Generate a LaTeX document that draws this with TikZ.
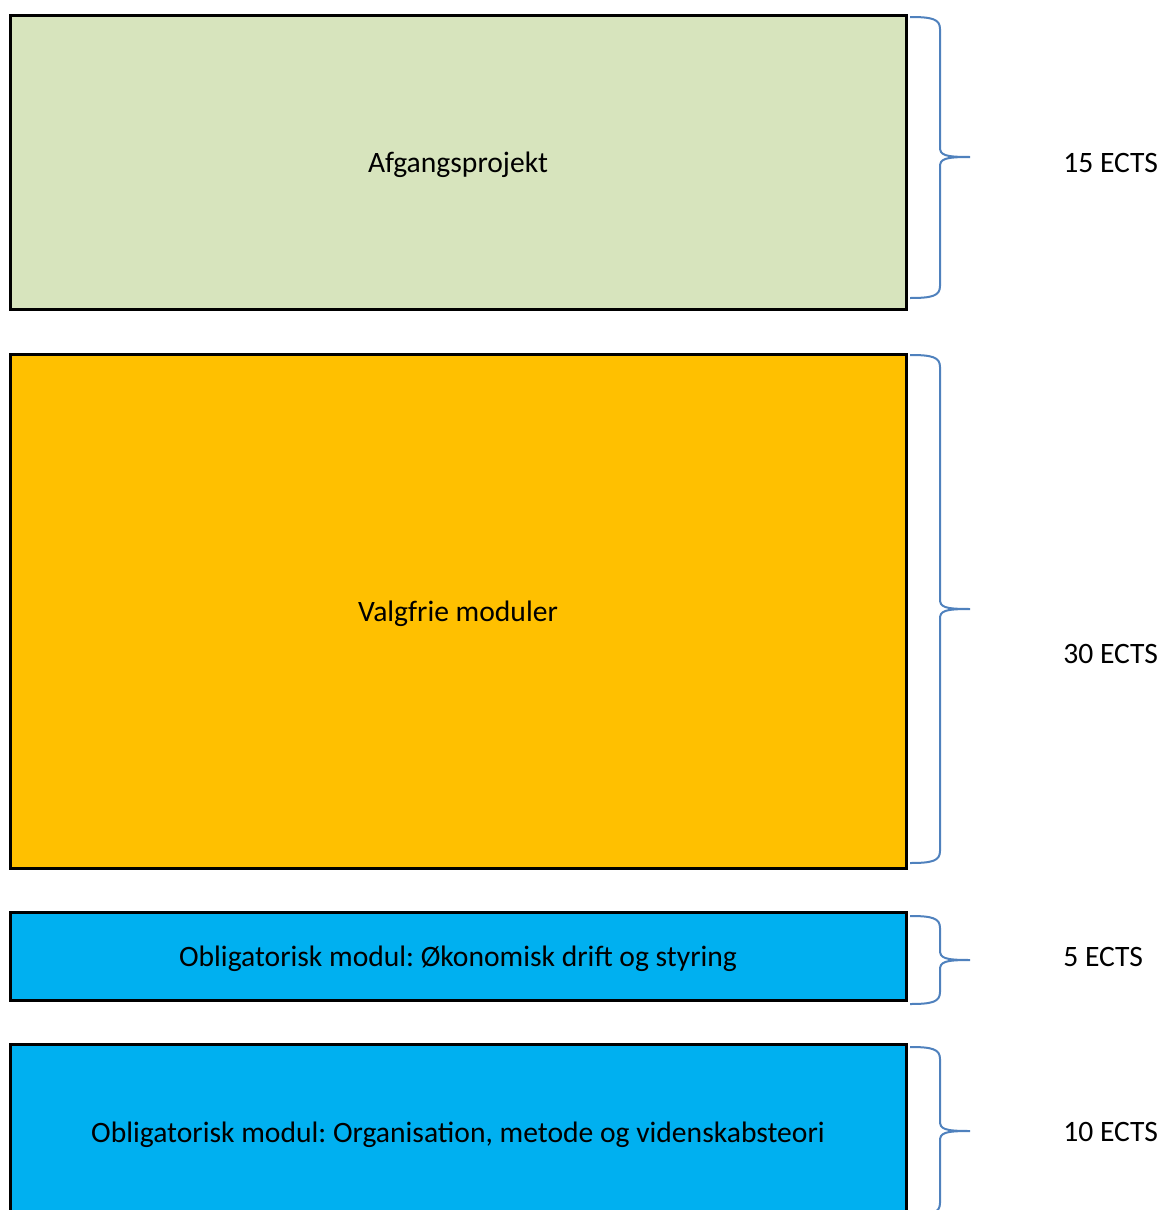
\documentclass[tikz,border=0pt]{standalone}
\usepackage{fontspec}
\setmainfont{Carlito}
\frenchspacing

\definecolor{afgangcol}{HTML}{D7E4BD}
\definecolor{valgcol}{HTML}{FFC000}
\definecolor{obligcol}{HTML}{00B0F0}
\definecolor{bracecol}{HTML}{4F81BD}

\tikzset{
  modul/.style={draw=black, line width=1.5pt, minimum width=448pt, inner sep=0pt, text depth=0pt, font=\fontsize{14.8}{17}\selectfont},
  klamme/.style={draw=bracecol, line width=1pt},
  ects/.style={anchor=west, inner sep=0pt, font=\fontsize{14.8}{17}\selectfont}
}

% klamme: top, spids, bund
\newcommand\ectsklamme[3]{%
  \draw[klamme] (910,#1) .. controls (932,#1) and (940,#1+2) .. (940,#1+12)
    -- (940,#2-10) .. controls (940,#2-2) and (944,#2) .. (970,#2)
    .. controls (944,#2) and (940,#2+2) .. (940,#2+10)
    -- (940,#3-12) .. controls (940,#3-2) and (932,#3) .. (910,#3);}

\begin{document}
\begin{tikzpicture}[x=0.5pt,y=-0.5pt]
\clip (0,0) rectangle (1162,1210);
\useasboundingbox (0,0) rectangle (1162,1210);

% moduler
\node[modul, fill=afgangcol, minimum height=147pt] (afgang) at (458,162) {Afgangsprojekt};
\node[modul, fill=valgcol, minimum height=257pt] (valg) at (458,611) {Valgfrie moduler};
\node[modul, fill=obligcol, minimum height=44pt] (oekonomi) at (458,956) {Obligatorisk modul: Økonomisk drift og styring};
\node[modul, fill=obligcol, minimum height=88pt] (organisation) at (458,1132) {Obligatorisk modul: Organisation, metode og videnskabsteori};

% klammer
\ectsklamme{17}{157}{298}
\ectsklamme{355}{609}{863}
\ectsklamme{916}{960}{1004}
\ectsklamme{1047}{1131}{1215}

% point
\node[ects] (ects15) at (1063,163) {15 ECTS};
\node[ects] (ects30) at (1063,654) {30 ECTS};
\node[ects] (ects5) at (1063,957) {5 ECTS};
\node[ects] (ects10) at (1063,1132) {10 ECTS};
\end{tikzpicture}
\end{document}
